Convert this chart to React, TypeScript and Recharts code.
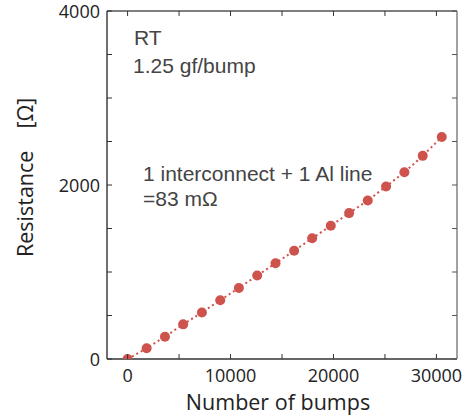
import React from 'react';
import { LineChart, Line, XAxis, YAxis, Customized } from 'recharts';

const bumps = [0, 1850, 3630, 5400, 7220, 9000, 10810, 12590, 14370, 16180, 17930, 19740, 21520, 23330, 25110, 26890, 28670, 30520];
const resistance = [0, 123, 256, 398, 535, 676, 817, 959, 1100, 1245, 1387, 1532, 1677, 1822, 1983, 2147, 2335, 2552];
const xTicks = [0, 5000, 10000, 15000, 20000, 25000, 30000];
const xLabelTicks = [0, 10000, 20000, 30000];
const yTicks = [0, 500, 1000, 1500, 2000, 2500, 3000, 3500, 4000];
const yLabelTicks = [0, 2000, 4000];
const xTitle = 'Number of bumps';
const yTitle = 'Resistance';
const yUnit = '[Ω]';
const noteA = ['RT', '1.25 gf/bump'];
const noteB = ['1 interconnect + 1 Al line', '=83 mΩ'];

const data = bumps.map((b, i) => ({ x: b, r: resistance[i] }));

const TICK_FONT = '"Open Sans", sans-serif';
const NOTE_FONT = '"Liberation Sans", Arial, sans-serif';

const BottomTick = (props: any) => {
  const { x, y, payload } = props;
  return (
    <g>
      <line x1={x} x2={x} y1={y} y2={y - 5} stroke="#333" strokeWidth={1} />
      {xLabelTicks.includes(payload.value) && (
        <text x={x} y={y + 23} textAnchor="middle" fontFamily={TICK_FONT} fontSize={18} fill="#222">
          {payload.value}
        </text>
      )}
    </g>
  );
};

const TopTick = (props: any) => {
  const { x, y } = props;
  return <line x1={x} x2={x} y1={y} y2={y + 5} stroke="#333" strokeWidth={1} />;
};

const LeftTick = (props: any) => {
  const { x, y, payload } = props;
  return (
    <g>
      <line x1={x} x2={x + 5} y1={y} y2={y} stroke="#333" strokeWidth={1} />
      {yLabelTicks.includes(payload.value) && (
        <text x={x - 7} y={y + 6.5} textAnchor="end" fontFamily={TICK_FONT} fontSize={18} fill="#222">
          {payload.value}
        </text>
      )}
    </g>
  );
};

const RightTick = (props: any) => {
  const { x, y } = props;
  return <line x1={x} x2={x - 5} y1={y} y2={y} stroke="#555" strokeWidth={1} />;
};

const Annotations = () => (
  <g>
    <text x={134} y={45} fontFamily={NOTE_FONT} fontSize={21} fill="#444">{noteA[0]}</text>
    <text x={133} y={73} fontFamily={NOTE_FONT} fontSize={21} fill="#444">{noteA[1]}</text>
    <text x={143} y={181} fontFamily={NOTE_FONT} fontSize={21} fill="#444">{noteB[0]}</text>
    <text x={143} y={206} fontFamily={NOTE_FONT} fontSize={21} fill="#444">{noteB[1]}</text>
    <text x={278} y={410} textAnchor="middle" fontFamily={TICK_FONT} fontSize={21.5} fill="#222">{xTitle}</text>
    <text x={33} y={257} transform="rotate(-90, 33, 257)" fontFamily={TICK_FONT} fontSize={21.5} fill="#222">
      {yTitle}
      <tspan dx={22}>{yUnit}</tspan>
    </text>
  </g>
);

export default function App() {
  return (
    <div style={{ position: 'absolute', left: 0, top: 0 }}>
      <LineChart width={468} height={416} data={data} margin={{ top: 0, right: 0, bottom: 0, left: 0 }}>
        <XAxis
          xAxisId="bottom"
          dataKey="x"
          type="number"
          domain={[-2000, 32000]}
          allowDataOverflow
          ticks={xTicks}
          interval={0}
          height={57}
          tickSize={0}
          tickMargin={0}
          tickLine={false}
          tick={<BottomTick />}
          axisLine={{ stroke: '#333', strokeWidth: 1.4 }}
          orientation="bottom"
        />
        <XAxis
          xAxisId="top"
          dataKey="x"
          type="number"
          domain={[-2000, 32000]}
          allowDataOverflow
          ticks={xTicks}
          interval={0}
          height={11}
          tickSize={0}
          tickMargin={0}
          tickLine={false}
          tick={<TopTick />}
          axisLine={{ stroke: '#555', strokeWidth: 1.3 }}
          orientation="top"
        />
        <YAxis
          yAxisId="left"
          type="number"
          domain={[0, 4000]}
          allowDataOverflow
          ticks={yTicks}
          interval={0}
          width={107}
          tickSize={0}
          tickMargin={0}
          tickLine={false}
          tick={<LeftTick />}
          axisLine={{ stroke: '#333', strokeWidth: 1.4 }}
          orientation="left"
        />
        <YAxis
          yAxisId="right"
          type="number"
          domain={[0, 4000]}
          allowDataOverflow
          ticks={yTicks}
          interval={0}
          width={11}
          tickSize={0}
          tickMargin={0}
          tickLine={false}
          tick={<RightTick />}
          axisLine={{ stroke: '#8a8a8a', strokeWidth: 1.6 }}
          orientation="right"
        />
        <Line
          xAxisId="top"
          yAxisId="right"
          dataKey="r"
          stroke="none"
          dot={false}
          activeDot={false}
          isAnimationActive={false}
        />
        <Line
          xAxisId="bottom"
          yAxisId="left"
          dataKey="r"
          type="linear"
          stroke="#d0524c"
          strokeWidth={2}
          strokeDasharray="2 3"
          dot={{ r: 5, fill: '#cf534d', stroke: 'none' }}
          activeDot={false}
          isAnimationActive={false}
        />
        <Customized component={Annotations} />
      </LineChart>
    </div>
  );
}
